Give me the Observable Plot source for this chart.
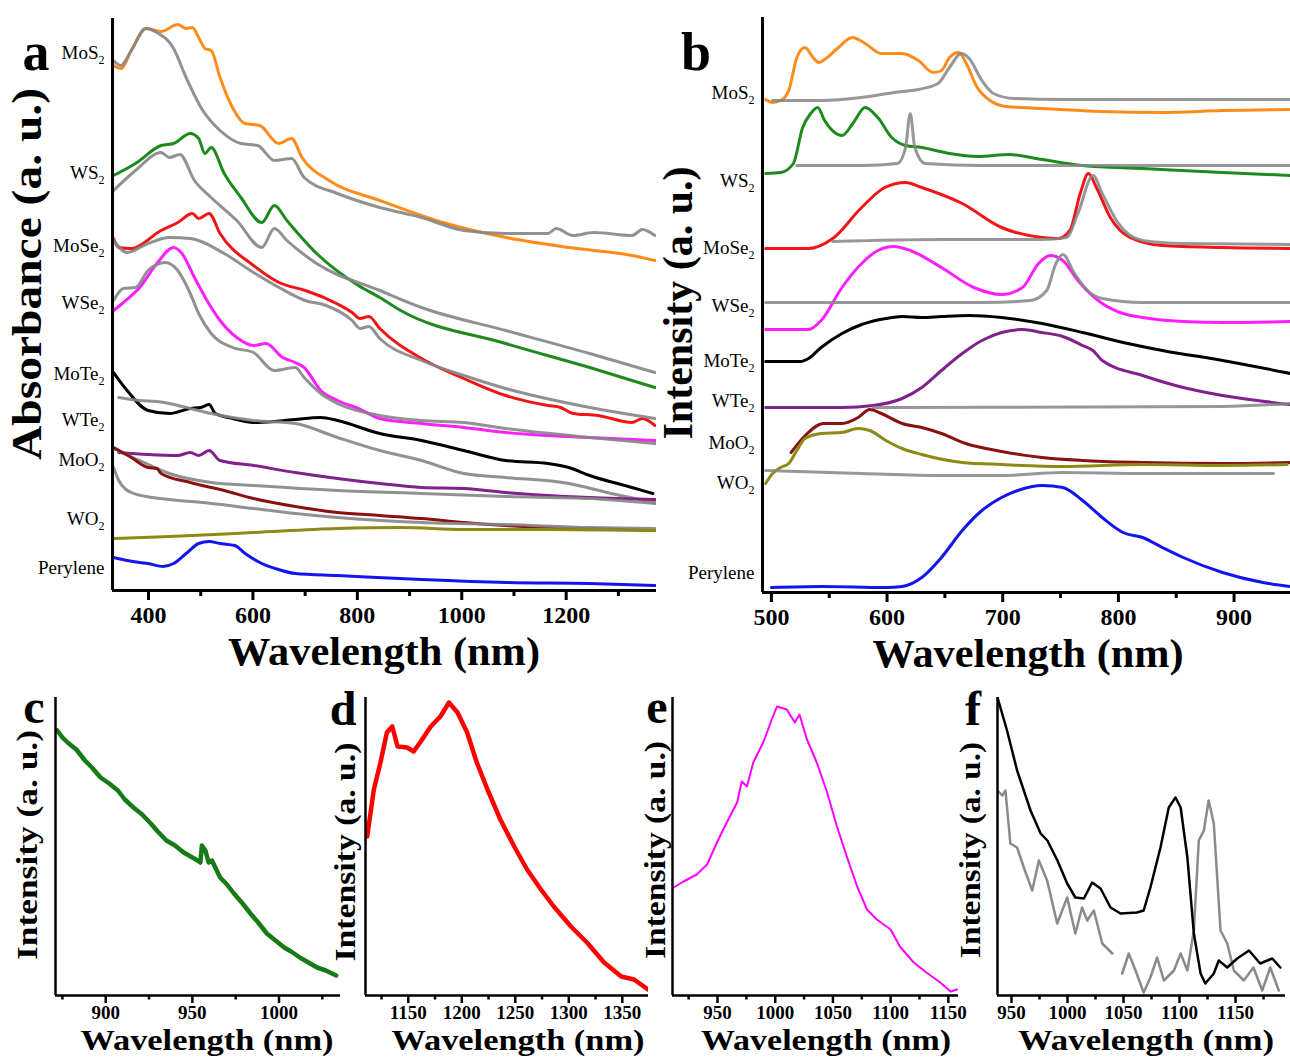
<!DOCTYPE html>
<html><head><meta charset="utf-8">
<script src="https://cdn.jsdelivr.net/npm/d3@7"></script>
<script src="https://cdn.jsdelivr.net/npm/@observablehq/plot@0.6"></script>
<style>
body{margin:0;background:#fff;}
#fig{position:relative;width:1290px;height:1060px;overflow:hidden;background:#fff;}
#fig svg{position:absolute;display:block;max-width:none;}
</style></head><body><div id="fig"></div>
<script>
// ---------- Panel a : absorbance (x = nm, y = a.u.) ----------
const aMoS2 = [[333,525],[347,522],[367,540],[395,562],[424,559],[456,566],[472,562],[484,563],[496,553],[508,542],[520,540],[537,513],[557,487],[585,467],[613,465],[649,447],[674,452],[694,433],[746,410],[843,390],[964,368],[1085,353],[1206,343],[1326,335],[1370,330]];
const aMoS2g = [[333,530],[347,525],[367,540],[395,562],[416,558],[448,542],[472,513],[504,480],[537,460],[577,447],[609,445],[641,430],[674,432],[698,413],[762,397],[843,383],[923,373],[1004,360],[1085,357],[1165,357],[1181,362],[1213,355],[1253,358],[1326,355],[1346,361],[1370,355]];
const aWS2 = [[333,415],[375,427],[424,445],[448,447],[480,457],[496,452],[508,437],[520,443],[545,417],[577,393],[617,368],[641,385],[665,370],[722,337],[802,305],[843,293],[883,280],[1084,247],[1245,223],[1370,203]];
const aWS2g = [[333,400],[375,420],[424,438],[440,433],[460,436],[488,410],[520,393],[569,370],[617,343],[641,362],[665,350],[722,327],[843,300],[923,283],[1084,260],[1245,237],[1370,218]];
const aMoSe2 = [[333,352],[343,343],[367,342],[424,360],[456,368],[484,377],[496,372],[516,377],[537,357],[601,325],[650,308],[700,300],[740,292],[790,278],[805,272],[822,274],[843,262],[923,232],[1004,212],[1084,195],[1165,185],[1189,183],[1213,177],[1261,175],[1326,168],[1346,172],[1370,165]];
const aMoSe2g = [[333,350],[359,338],[399,347],[440,353],[480,352],[545,337],[601,318],[650,303],[700,290],[740,285],[790,270],[805,262],[822,264],[843,252],[923,230],[1004,215],[1084,202],[1245,183],[1370,172]];
const aWSe2 = [[333,280],[352,288],[383,303],[416,327],[448,343],[464,337],[488,313],[512,290],[537,270],[569,253],[601,245],[625,247],[657,233],[681,228],[698,223],[730,200],[762,190],[802,182],[843,172],[923,167],[1004,163],[1084,158],[1165,155],[1245,153],[1370,150]];
const aWSe2g = [[333,290],[352,302],[375,303],[399,320],[432,328],[456,320],[480,297],[496,277],[520,257],[561,243],[601,238],[641,220],[681,223],[698,213],[730,197],[762,187],[843,175],[923,170],[1004,168],[1084,162],[1245,153],[1370,147]];
const aMoTe2 = [[333,218],[359,200],[399,180],[440,177],[480,182],[500,183],[516,186],[528,177],[561,172],[601,168],[641,169],[681,171],[730,173],[762,170],[843,157],[923,150],[1004,140],[1084,130],[1165,127],[1205,123],[1245,115],[1326,103],[1366,97]];
const aMoTe2g = [[343,193],[383,190],[416,189],[440,187],[480,182],[520,177],[601,170],[681,167],[762,153],[843,140],[923,130],[1004,117],[1084,113],[1205,107],[1286,97],[1370,88]];
const aWTe2 = [[343,138],[399,136],[456,135],[480,138],[496,135],[516,140],[537,130],[601,125],[681,118],[762,112],[843,107],[923,103],[1004,102],[1084,98],[1165,95],[1245,93],[1370,91]];
const aWTe2g = [[333,142],[383,130],[440,117],[520,108],[601,105],[762,100],[923,97],[1084,94],[1245,92],[1370,87]];
const aMoO2 = [[333,143],[367,133],[399,123],[416,122],[424,117],[480,108],[545,100],[601,92],[681,84],[762,78],[843,75],[923,72],[1004,68],[1084,65],[1165,63],[1245,62],[1370,60]];
const aMoO2g = [[333,123],[343,110],[367,98],[407,93],[440,91],[520,87],[601,82],[681,77],[762,73],[923,68],[1084,66],[1245,63],[1370,62]];
const aWO2 = [[333,52],[440,54],[601,58],[762,62],[883,63],[1004,61],[1165,61],[1370,60]];
const aPerylene = [[333,33],[359,30],[383,28],[399,27],[428,24],[448,27],[472,37],[496,47],[516,49],[537,47],[565,45],[585,37],[617,27],[649,21],[681,17],[762,15],[923,11],[1084,8],[1245,7],[1370,5]];
const aTicks = [400,600,800,1000,1200];
const aMinor = [500,700,900,1100,1300];

// ---------- Panel b : PL intensity ----------
const bMoS2 = [[495,493],[501,490],[508,492],[515,502],[522,535],[529,545],[536,535],[541,530],[546,533],[557,544],[570,555],[581,549],[595,539],[613,539],[627,532],[640,520],[647,522],[654,535],[662,540],[668,530],[678,505],[689,492],[703,486],[734,484],[786,481],[838,480],[890,482],[949,483]];
const bMoS2g = [[501,492],[543,492],[578,495],[606,500],[627,503],[644,509],[654,525],[664,539],[671,534],[682,512],[692,499],[710,494],[752,493],[949,493]];
const bWS2 = [[495,419],[508,420],[519,429],[527,465],[534,479],[540,485],[546,472],[561,457],[571,470],[581,485],[592,475],[604,455],[616,447],[630,445],[654,439],[678,436],[706,438],[734,433],[769,427],[821,424],[890,420],[949,417]];
const bWS2g = [[522,427],[578,427],[609,429],[616,445],[620,479],[624,445],[633,429],[682,427],[949,427]];
const bMoSe2 = [[495,344],[532,344],[553,354],[578,385],[598,405],[616,410],[630,405],[665,389],[699,365],[734,355],[748,354],[758,362],[767,399],[774,419],[781,405],[793,375],[810,355],[838,347],[890,345],[949,344]];
const bMoSe2g = [[553,351],[647,353],[734,353],[755,355],[765,379],[778,417],[786,399],[800,369],[821,352],[856,349],[949,348]];
const bWSe2 = [[495,263],[532,263],[543,272],[561,305],[578,329],[592,342],[606,346],[620,342],[647,325],[675,305],[699,298],[717,305],[731,329],[741,337],[752,332],[765,312],[786,289],[804,279],[821,275],[856,271],[890,270],[949,271]];
const bWSe2g = [[495,290],[682,290],[724,292],[738,302],[746,329],[752,338],[762,319],[773,302],[786,294],[821,290],[949,290]];
const bMoTe2 = [[495,231],[525,231],[532,234],[543,245],[561,259],[578,268],[599,274],[613,276],[630,275],[647,276],[671,277],[699,275],[734,269],[769,260],[804,250],[838,242],[890,232],[949,219]];
const bWTe2 = [[495,185],[561,185],[588,187],[613,194],[630,205],[647,222],[665,239],[682,252],[699,260],[717,263],[734,260],[752,256],[769,247],[778,242],[786,232],[821,217],[856,205],[890,197],[949,188]];
const bWTe2g = [[588,185],[890,186],[949,189]];
const bMoO2 = [[517,140],[531,159],[545,169],[561,169],[575,175],[585,183],[595,179],[613,169],[630,165],[647,159],[668,149],[699,141],[734,135],[769,132],[821,130],[890,129],[949,130]];
const bWO2 = [[495,109],[501,119],[508,125],[515,129],[522,142],[529,154],[543,159],[561,160],[575,164],[585,162],[599,152],[613,144],[630,138],[665,130],[699,128],[752,126],[821,128],[890,127],[946,128]];
const bWO2g = [[495,122],[578,119],[647,117],[699,117],[752,120],[821,119],[934,119]];
const bPerylene = [[500,5],[543,6],[599,5],[613,6],[630,15],[647,35],[665,62],[682,82],[699,95],[713,102],[734,107],[752,105],[769,92],[786,75],[804,60],[821,55],[838,45],[856,35],[890,20],[925,10],[949,6]];
const bTicks = [500,600,700,800,900];
const bMinor = [550,650,750,850];

// ---------- Panels c–f : NIR PL ----------
const cWS2 = [[872,265],[875,258],[878,253],[883,246],[888,235],[892,228],[897,218],[902,212],[907,205],[911,196],[916,188],[921,181],[926,172],[930,164],[935,155],[940,150],[945,143],[949,139],[953,135],[954.6,133],[955.5,150],[957.5,145],[959.4,133],[961.3,135],[966,118],[970,111],[974,102],[979,92],[983.5,82],[988,73],[993,62],[998,55],[1003,48],[1007,44],[1012,38],[1017,33],[1022,28],[1027,25],[1033,20]];
const dMoSe2 = [[1111.6,159],[1117.8,206],[1124,233],[1130,263],[1135,269],[1140,249],[1149,248],[1155,244],[1161,253],[1171,269],[1180,279],[1188,293],[1196,283],[1205,263],[1214,233],[1224,206],[1236,176],[1249,149],[1261,126],[1274,106],[1286,89],[1302,69],[1317,53],[1333,33],[1349,19],[1361,16],[1374,6]];
const eWSe2 = [[912,108],[920.5,114],[932,121],[941,131],[949.5,153],[958,173],[967,193],[971,214],[975.5,209],[981,233],[990,254],[997,276],[1001.5,289],[1010,286],[1017,273],[1021,281],[1027.5,256],[1036,233],[1045,203],[1053.5,169],[1062,139],[1071,109],[1079.5,86],[1088,76],[1100,66],[1108,49],[1120,33],[1131,23],[1143,13],[1152,4],[1157.5,6]];
const fMoTe2 = [[937.5,298],[946,265],[955,225],[967,185],[976,162],[982,155],[991,135],[999.7,112],[1007,98],[1014.6,97],[1022,113],[1029.5,107],[1038.4,88],[1047.3,82],[1062,83],[1068,85],[1074,108],[1083,148],[1090.4,188],[1096.4,198],[1101,188],[1107,138],[1112.8,62],[1118.8,22],[1123,12],[1130.6,22],[1135,35],[1142.6,28],[1151.5,37],[1162,45],[1172,32],[1182.8,37],[1190,28]];
const fMoTe2g = [[937.5,205],[941.7,200],[944.6,205],[949,152],[955,148],[961,128],[968.5,105],[974.4,135],[981.8,115],[990.8,72],[999.7,98],[1007,62],[1013,88],[1017.6,75],[1023.5,85],[1031,52],[1040,42],[1044,null],[1048.8,22],[1054.7,42],[1060.7,25],[1068,3],[1074,18],[1080,38],[1086,15],[1095,25],[1101,42],[1107,25],[1112.8,65],[1117.2,155],[1121.7,165],[1126,195],[1130.6,172],[1136.6,65],[1142.6,52],[1148.5,25],[1157.4,15],[1166,28],[1173.8,5],[1181,28],[1188.6,5]];
const cTicks = [900,950,1000], cMinor = [875,925,975,1025];
const dTicks = [1150,1200,1250,1300,1350], dMinor = [1125,1175,1225,1275,1325];
const eTicks = [950,1000,1050,1100,1150], eMinor = [925,975,1025,1075,1125];
const fTicks = [950,1000,1050,1100,1150], fMinor = [975,1025,1075,1125,1175];

// ---------- labels ----------
const sampleNames = ["MoS2","WS2","MoSe2","WSe2","MoTe2","WTe2","MoO2","WO2","Perylene"];
const aLabelY = [538,418,345,288,217,171,131,72,23];
const bLabelY = [500,412,345,287,232,192,150,110,20];

// ---------- drawing ----------
const SERIF = "'Liberation Serif','Times New Roman',serif";
const NS = "http://www.w3.org/2000/svg";
const fig = document.getElementById("fig");
const C = {orange:"#FF8C1A", green:"#1E8A1E", red:"#F31515", magenta:"#FF1EFF", black:"#000000",
  purple:"#80218C", maroon:"#8A1111", olive:"#8C8A14", blue:"#1414EE", gray:"#858585"};

const ln = (data, color, w, curve="monotone-x", op=1) => Plot.line(data, {x: d => d[0], y: d => d[1], stroke: color, strokeWidth: w, curve, clip: true, strokeOpacity: op, strokeLinejoin: "round"});

function panel(cfg) {
  const marks = [
    ...cfg.lines,
    Plot.axisX({ticks: cfg.minor, tickSize: cfg.minorSize, strokeWidth: cfg.aw, tickFormat: () => "", label: null}),
    Plot.axisX({ticks: cfg.major, tickSize: cfg.majorSize, tickPadding: cfg.pad, strokeWidth: cfg.aw, fontSize: cfg.fs, fontWeight: "bold", tickFormat: d => String(d), label: null}),
    Plot.ruleX([cfg.xd[0]], {stroke: "black", strokeWidth: cfg.aw}),
    Plot.ruleY([cfg.yd[0]], {stroke: "black", strokeWidth: cfg.aw})
  ];
  if (cfg.labels) marks.push(Plot.text(cfg.labels, {x: () => cfg.xd[0], y: d => d[1], text: d => d[0], textAnchor: "end", dx: -8, fontSize: 19, fill: "black"}));
  const svg = Plot.plot({
    width: cfg.w, height: cfg.h,
    marginLeft: cfg.ml, marginRight: cfg.mr, marginTop: cfg.mt, marginBottom: cfg.mb,
    x: {domain: cfg.xd}, y: {domain: cfg.yd, axis: null},
    style: {fontFamily: SERIF, color: "black", background: "transparent", overflow: "visible"},
    marks
  });
  svg.style.left = cfg.left + "px";
  svg.style.top = cfg.top + "px";
  // subscript 2 in compound labels
  svg.querySelectorAll('g[aria-label="text"] text').forEach(t => {
    const s = t.textContent;
    if (/2$/.test(s)) {
      t.textContent = "";
      const a = document.createElementNS(NS, "tspan"); a.textContent = s.slice(0, -1);
      const b = document.createElementNS(NS, "tspan"); b.textContent = "2";
      b.setAttribute("font-size", "12"); b.setAttribute("dy", "5");
      t.append(a, b);
    }
  });
  fig.appendChild(svg);
}

const W = 3, G = 3;
panel({left: 0, top: 0, w: 665, h: 640, ml: 112, mr: 9, mt: 18, mb: 50,
  xd: [331, 1373], yd: [0, 572], major: aTicks, minor: aMinor, majorSize: 10, minorSize: 6, pad: 5, aw: 3, fs: 24,
  labels: sampleNames.map((n, i) => [n, aLabelY[i]]),
  lines: [
    ln(aMoS2, C.orange, W), ln(aMoS2g, C.gray, G, "monotone-x", 0.9),
    ln(aWS2, C.green, W), ln(aWS2g, C.gray, G, "monotone-x", 0.9),
    ln(aMoSe2, C.red, W), ln(aMoSe2g, C.gray, G, "monotone-x", 0.9),
    ln(aWSe2, C.magenta, W), ln(aWSe2g, C.gray, G, "monotone-x", 0.9),
    ln(aMoTe2, C.black, W), ln(aMoTe2g, C.gray, G, "monotone-x", 0.9),
    ln(aWTe2, C.purple, W), ln(aWTe2g, C.gray, G, "monotone-x", 0.9),
    ln(aMoO2, C.maroon, W), ln(aMoO2g, C.gray, G, "monotone-x", 0.9),
    ln(aWO2, C.olive, W), ln(aPerylene, C.blue, W)
  ]});

panel({left: 660, top: 0, w: 630, h: 640, ml: 102, mr: 0, mt: 17, mb: 48,
  xd: [492.3, 948.8], yd: [0, 575], major: bTicks, minor: bMinor, majorSize: 10, minorSize: 6, pad: 5, aw: 3, fs: 24,
  labels: sampleNames.map((n, i) => [n, bLabelY[i]]),
  lines: [
    ln(bMoS2, C.orange, W), ln(bMoS2g, C.gray, G, "monotone-x", 0.85),
    ln(bWS2, C.green, W), ln(bWS2g, C.gray, G, "monotone-x", 0.85),
    ln(bMoSe2, C.red, W), ln(bMoSe2g, C.gray, G, "monotone-x", 0.85),
    ln(bWSe2, C.magenta, W), ln(bWSe2g, C.gray, G, "monotone-x", 0.85),
    ln(bMoTe2, C.black, W),
    ln(bWTe2, C.purple, W), ln(bWTe2g, C.gray, G, "monotone-x", 0.85),
    ln(bMoO2, C.maroon, W), ln(bWO2, C.olive, W), ln(bWO2g, C.gray, G, "monotone-x", 0.85),
    ln(bPerylene, C.blue, W)
  ]});

const bot = {top: 640, h: 420, mt: 57, mb: 65, yd: [0, 298], majorSize: 8, minorSize: 4.5, pad: 2, aw: 2.5, fs: 19};
panel({...bot, left: 0, w: 345, ml: 55, mr: 5, xd: [871, 1035.5], major: cTicks, minor: cMinor,
  lines: [ln(cWS2, "#167A16", 4.5, "linear")]});
panel({...bot, left: 320, w: 330, ml: 45, mr: 2, xd: [1110, 1374.5], major: dTicks, minor: dMinor,
  lines: [ln(dMoSe2, "#FF0000", 4.5, "linear")]});
panel({...bot, left: 640, w: 330, ml: 32, mr: 12, xd: [911, 1158.8], major: eTicks, minor: eMinor,
  lines: [ln(eWSe2, "#FF00FF", 2, "linear")]});
panel({...bot, left: 950, w: 340, ml: 47, mr: 5, xd: [937.5, 1194.6], major: fTicks, minor: fMinor,
  lines: [ln(fMoTe2g, "#8A8A8A", 2.5, "linear"), ln(fMoTe2, "#000000", 2.5, "linear")]});

// ---------- overlay: panel letters & axis titles ----------
const ov = d3.select(fig).append("svg").attr("width", 1290).attr("height", 1060)
  .style("left", "0px").style("top", "0px").style("pointer-events", "none")
  .style("font-family", SERIF).style("font-weight", "bold");
const letters = [["a",36,70,54],["b",696,70,54],["c",34,723,48],["d",343,725,48],["e",657,723,48],["f",973,725,48]];
letters.forEach(([t,x,y,s]) => ov.append("text").attr("x", x).attr("y", y).attr("text-anchor", "middle").attr("font-size", s).text(t));
const xTitles = [[384,665,40,312],[1028,667,40,311],[207,1050,29,253],[518,1050,29,253],[826,1050,29,250],[1146,1050,29,256]];
xTitles.forEach(([x,y,s,L]) => ov.append("text").attr("x", x).attr("y", y).attr("text-anchor", "middle").attr("font-size", s)
  .attr("textLength", L).attr("lengthAdjust", "spacingAndGlyphs").text("Wavelength (nm)"));
const yTitles = [["Absorbance (a. u.)",41,274,42,372],["Intensity (a. u.)",692,303,42,273],["Intensity (a. u.)",37,845,30,230],
  ["Intensity (a. u.)",355,852,30,219],["Intensity (a. u.)",665,850,30,218],["Intensity (a. u.)",980,850,30,216]];
yTitles.forEach(([t,x,y,s,L]) => ov.append("text").attr("x", x).attr("y", y).attr("text-anchor", "middle").attr("font-size", s)
  .attr("transform", `rotate(-90,${x},${y})`).attr("textLength", L).attr("lengthAdjust", "spacingAndGlyphs").text(t));
</script></body></html>
